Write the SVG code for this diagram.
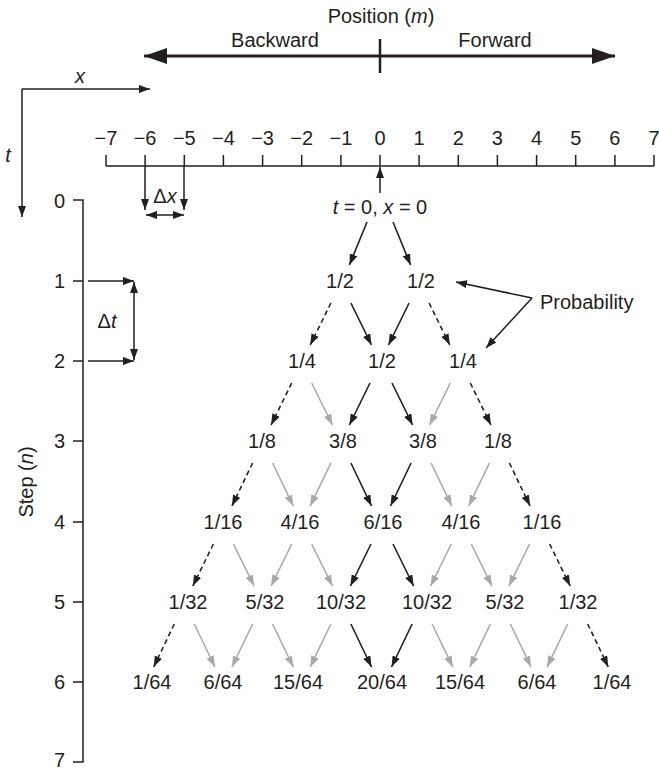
<svg xmlns="http://www.w3.org/2000/svg" width="659" height="771" viewBox="0 0 659 771">
<style>
text{font-family:"Liberation Sans",Arial,sans-serif;font-size:20px;fill:#231f20}
.c{text-anchor:middle}
.e{text-anchor:end}
.i{font-style:italic}
.ln{stroke:#231f20;stroke-width:1.5;fill:none}
.k{stroke:#231f20;stroke-width:1.6;fill:none;marker-end:url(#ak)}
.d{stroke:#231f20;stroke-width:1.6;fill:none;stroke-dasharray:5 3.5;marker-end:url(#ak)}
.g{stroke:#a7a9ac;stroke-width:1.6;fill:none;marker-end:url(#ag)}
</style>
<defs>
<marker id="ak" markerUnits="userSpaceOnUse" markerWidth="12" markerHeight="8" refX="11" refY="4" orient="auto-start-reverse"><path d="M0,0 L11,4 L0,8 z" fill="#231f20"/></marker>
<marker id="ag" markerUnits="userSpaceOnUse" markerWidth="12" markerHeight="8" refX="11" refY="4" orient="auto"><path d="M0,0 L11,4 L0,8 z" fill="#a7a9ac"/></marker>
<marker id="big" markerUnits="userSpaceOnUse" markerWidth="24" markerHeight="16" refX="23" refY="8" orient="auto-start-reverse"><path d="M0,0 L23,8 L0,16 z" fill="#231f20"/></marker>
</defs>

<g id="position-header">
<text class="c" x="381" y="23">Position (<tspan class="i">m</tspan>)</text>
<text class="c" x="275" y="47">Backward</text>
<text class="c" x="495" y="47">Forward</text>
<line x1="144" y1="56" x2="615" y2="56" stroke="#231f20" stroke-width="3" marker-start="url(#big)" marker-end="url(#big)"/>
<line x1="380" y1="39" x2="380" y2="73" stroke="#231f20" stroke-width="2.5"/>
</g>

<g id="xt-axes">
<path class="ln" d="M22,89 H150" marker-end="url(#ak)"/>
<path class="ln" d="M22,89 V217" marker-end="url(#ak)"/>
<text class="c i" x="80" y="83">x</text>
<text class="c i" x="8" y="162">t</text>
</g>

<g id="number-line">
<path class="ln" d="M106,166 H654 M106,155 V166 M145.1,155 V166 M184.3,155 V166 M223.4,155 V166 M262.6,155 V166 M301.7,155 V166 M340.9,155 V166 M380,155 V166 M419.1,155 V166 M458.3,155 V166 M497.4,155 V166 M536.6,155 V166 M575.7,155 V166 M614.9,155 V166 M654,155 V166"/>
<text class="c" x="106" y="145">−7</text>
<text class="c" x="145.1" y="145">−6</text>
<text class="c" x="184.3" y="145">−5</text>
<text class="c" x="223.4" y="145">−4</text>
<text class="c" x="262.6" y="145">−3</text>
<text class="c" x="301.7" y="145">−2</text>
<text class="c" x="340.9" y="145">−1</text>
<text class="c" x="380" y="145">0</text>
<text class="c" x="419.1" y="145">1</text>
<text class="c" x="458.3" y="145">2</text>
<text class="c" x="497.4" y="145">3</text>
<text class="c" x="536.6" y="145">4</text>
<text class="c" x="575.7" y="145">5</text>
<text class="c" x="614.9" y="145">6</text>
<text class="c" x="654" y="145">7</text>
</g>

<g id="delta-x">
<path class="ln" d="M145,166 V210" marker-end="url(#ak)"/>
<path class="ln" d="M184,166 V210" marker-end="url(#ak)"/>
<path class="ln" d="M146,215 H184" marker-start="url(#ak)" marker-end="url(#ak)"/>
<text class="c" x="165" y="203">Δ<tspan class="i">x</tspan></text>
</g>

<g id="step-axis">
<path class="ln" d="M73,200 H83 V762 H73 M73,281 H83 M73,361 H83 M73,441 H83 M73,522 H83 M73,602 H83 M73,682 H83"/>
<text class="e" x="65" y="208">0</text>
<text class="e" x="65" y="288">1</text>
<text class="e" x="65" y="368">2</text>
<text class="e" x="65" y="448">3</text>
<text class="e" x="65" y="529">4</text>
<text class="e" x="65" y="609">5</text>
<text class="e" x="65" y="689">6</text>
<text class="e" x="65" y="767">7</text>
<text class="c" transform="translate(33,482) rotate(-90)">Step (<tspan class="i">n</tspan>)</text>
</g>

<g id="delta-t">
<path class="ln" d="M88,281 H134" marker-end="url(#ak)"/>
<path class="ln" d="M88,361 H134" marker-end="url(#ak)"/>
<path class="ln" d="M134,282 V360" marker-start="url(#ak)" marker-end="url(#ak)"/>
<text class="c" x="107" y="328">Δ<tspan class="i">t</tspan></text>
</g>

<g id="origin">
<text class="c" x="380" y="214"><tspan class="i">t</tspan> = 0, <tspan class="i">x</tspan> = 0</text>
<path class="ln" d="M380,193 V167" marker-end="url(#ak)"/>
</g>

<g id="level1">
<text class="c" x="340" y="288">1/2</text>
<text class="c" x="421" y="288">1/2</text>
</g>
<g id="level2">
<text class="c" x="302" y="368">1/4</text>
<text class="c" x="382" y="368">1/2</text>
<text class="c" x="463" y="368">1/4</text>
</g>
<g id="level3">
<text class="c" x="262" y="448">1/8</text>
<text class="c" x="343" y="448">3/8</text>
<text class="c" x="423" y="448">3/8</text>
<text class="c" x="498" y="448">1/8</text>
</g>
<g id="level4">
<text class="c" x="223" y="529">1/16</text>
<text class="c" x="300" y="529">4/16</text>
<text class="c" x="383" y="529">6/16</text>
<text class="c" x="461" y="529">4/16</text>
<text class="c" x="542" y="529">1/16</text>
</g>
<g id="level5">
<text class="c" x="188" y="609">1/32</text>
<text class="c" x="265" y="609">5/32</text>
<text class="c" x="341" y="609">10/32</text>
<text class="c" x="427" y="609">10/32</text>
<text class="c" x="505" y="609">5/32</text>
<text class="c" x="578" y="609">1/32</text>
</g>
<g id="level6">
<text class="c" x="152" y="689">1/64</text>
<text class="c" x="223" y="689">6/64</text>
<text class="c" x="298" y="689">15/64</text>
<text class="c" x="382" y="689">20/64</text>
<text class="c" x="460" y="689">15/64</text>
<text class="c" x="537" y="689">6/64</text>
<text class="c" x="612" y="689">1/64</text>
</g>

<g id="probability">
<text x="540" y="309">Probability</text>
<path class="ln" d="M532,298 L456,282" marker-end="url(#ak)"/>
<path class="ln" d="M532,298 L486,348" marker-end="url(#ak)"/>
</g>

<g id="connectors">
<path class="k" d="M367,222 L349.4,265"/>
<path class="k" d="M393,222 L410.6,265"/>

<path class="d" d="M330.9,303 L310.2,345"/>
<path class="k" d="M350.9,303 L371.5,345"/>
<path class="k" d="M409.1,303 L388.5,345"/>
<path class="d" d="M429.1,303 L449.8,345"/>

<path class="d" d="M291.7,383 L271.1,425"/>
<path class="g" d="M311.7,383 L332.4,425"/>
<path class="k" d="M370,383 L349.4,425"/>
<path class="k" d="M392,383 L412.6,425"/>
<path class="g" d="M450.3,383 L429.6,425"/>
<path class="d" d="M470.3,383 L490.9,425"/>

<path class="d" d="M252.6,463 L231.9,506"/>
<path class="g" d="M272.6,463 L293.2,506"/>
<path class="g" d="M330.9,463 L310.2,506"/>
<path class="k" d="M350.9,463 L371.5,506"/>
<path class="k" d="M411.1,463 L390.5,506"/>
<path class="g" d="M431.1,463 L451.8,506"/>
<path class="g" d="M489.4,463 L468.8,506"/>
<path class="d" d="M509.4,463 L530.1,506"/>

<path class="d" d="M213.4,544 L192.8,586"/>
<path class="g" d="M233.4,544 L254.1,586"/>
<path class="g" d="M291.7,544 L271.1,586"/>
<path class="g" d="M311.7,544 L332.4,586"/>
<path class="k" d="M371,544 L350.4,586"/>
<path class="k" d="M393,544 L413.6,586"/>
<path class="g" d="M451.3,544 L430.6,586"/>
<path class="g" d="M471.3,544 L491.9,586"/>
<path class="g" d="M529.6,544 L508.9,586"/>
<path class="d" d="M549.6,544 L570.2,586"/>

<path class="d" d="M174.3,624 L153.7,667"/>
<path class="g" d="M194.3,624 L214.9,667"/>
<path class="g" d="M252.6,624 L231.9,667"/>
<path class="g" d="M272.6,624 L293.2,667"/>
<path class="g" d="M330.9,624 L310.2,667"/>
<path class="k" d="M350.9,624 L371.5,667"/>
<path class="k" d="M412.1,624 L391.5,667"/>
<path class="g" d="M432.1,624 L452.8,667"/>
<path class="g" d="M490.4,624 L469.8,667"/>
<path class="g" d="M510.4,624 L531.1,667"/>
<path class="g" d="M567.7,624 L547.1,667"/>
<path class="d" d="M587.7,624 L608.3,667"/>
</g>
</svg>
